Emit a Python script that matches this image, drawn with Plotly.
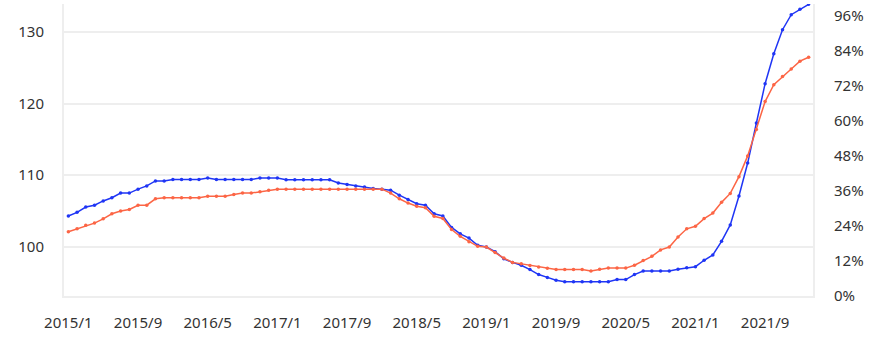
import plotly.graph_objects as go

months = [f"{2015 + k // 12}/{k % 12 + 1}" for k in range(86)]

blue = [104.3, 104.8, 105.55, 105.8, 106.4, 106.85, 107.5, 107.5, 108.05, 108.5,
        109.2, 109.2, 109.4, 109.4, 109.4, 109.4, 109.6, 109.4, 109.4, 109.4,
        109.4, 109.4, 109.6, 109.6, 109.6, 109.37, 109.37, 109.37, 109.37, 109.37,
        109.37, 108.9, 108.7, 108.5, 108.35, 108.15, 108.05, 107.9, 107.2, 106.6,
        106.0, 105.8, 104.6, 104.3, 102.7, 101.8, 101.2, 100.2, 99.95, 99.3,
        98.3, 97.8, 97.4, 96.8, 96.1, 95.7, 95.3, 95.1, 95.1, 95.1,
        95.1, 95.1, 95.1, 95.4, 95.4, 96.1, 96.6, 96.6, 96.6, 96.6,
        96.85, 97.05, 97.2, 98.1, 98.85, 100.75, 103.05, 107.1, 111.7, 117.3,
        122.8, 127.0, 130.35, 132.45, 133.2, 133.9]

orange = [102.1, 102.5, 103.0, 103.3, 103.9, 104.6, 105.0, 105.2, 105.8, 105.8,
          106.7, 106.85, 106.85, 106.85, 106.85, 106.85, 107.05, 107.05, 107.05, 107.3,
          107.5, 107.5, 107.7, 107.9, 108.05, 108.05, 108.05, 108.05, 108.05, 108.05,
          108.05, 108.05, 108.05, 108.05, 108.05, 108.05, 108.05, 107.5, 106.7, 106.1,
          105.65, 105.45, 104.25, 103.95, 102.4, 101.45, 100.7, 100.05, 99.95, 99.2,
          98.4, 97.8, 97.6, 97.35, 97.15, 96.97, 96.8, 96.8, 96.8, 96.8,
          96.6, 96.85, 97.0, 97.0, 97.0, 97.4, 98.05, 98.65, 99.55, 99.95,
          101.35, 102.5, 102.85, 103.93, 104.7, 106.2, 107.45, 109.8, 112.7, 116.4,
          120.3, 122.65, 123.8, 124.85, 125.95, 126.5]

x_ticks = months[::8]
right_ticks = [0, 0.12, 0.24, 0.36, 0.48, 0.60, 0.72, 0.84, 0.96]

BLUE = "#1f35f5"
ORANGE = "#fc6545"
FONT = "Noto Sans, Open Sans, sans-serif"

fig = go.Figure()
fig.add_trace(go.Scatter(x=months, y=blue, mode="lines+markers",
                         line=dict(color=BLUE, width=1.5),
                         marker=dict(color=BLUE, size=3.5),
                         showlegend=False))
fig.add_trace(go.Scatter(x=months, y=orange, mode="lines+markers",
                         line=dict(color=ORANGE, width=1.5),
                         marker=dict(color=ORANGE, size=3.5),
                         showlegend=False))
fig.add_trace(go.Scatter(x=[months[0]], y=[None], yaxis="y2", mode="lines",
                         showlegend=False, hoverinfo="skip"))

fig.update_layout(
    width=892, height=353,
    margin=dict(l=64, r=79, t=4, b=57),
    paper_bgcolor="white", plot_bgcolor="white",
    font=dict(family=FONT, size=15, color="#333333"),
    xaxis=dict(type="category", categoryorder="array", categoryarray=months,
               range=[-0.5, len(months) - 0.5],
               tickmode="array", tickvals=x_ticks, ticktext=x_ticks,
               showgrid=False, zeroline=False,
               showline=True, linecolor="#eeeeee", linewidth=2,
               ticks="", ticklabelstandoff=12),
    yaxis=dict(range=[93.1, 133.95], tickvals=[100, 110, 120, 130],
               showgrid=True, gridcolor="#eeeeee", gridwidth=2,
               zeroline=False, showline=True, linecolor="#eeeeee", linewidth=2,
               ticks="", ticklabelstandoff=15),
    yaxis2=dict(overlaying="y", side="right", range=[0, 1],
                tickvals=right_ticks, tickformat=".0%",
                showgrid=False, zeroline=False,
                showline=True, linecolor="#eeeeee", linewidth=2,
                ticks="", ticklabelstandoff=16),
)

fig.write_html("out.html")
